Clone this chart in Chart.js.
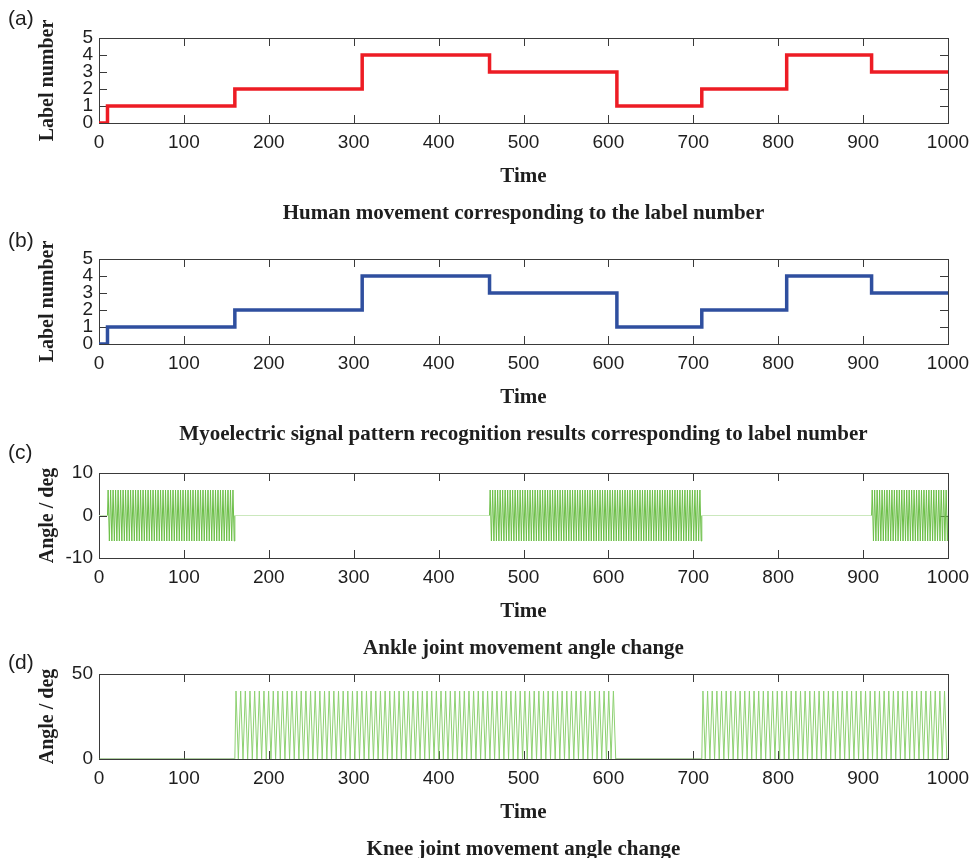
<!DOCTYPE html>
<html>
<head>
<meta charset="utf-8">
<title>Label number and joint angle</title>
<script src="https://cdn.jsdelivr.net/npm/chart.js@4.4.1/dist/chart.umd.min.js"></script>
<style>
  html, body { margin: 0; padding: 0; background: #fff; overflow: hidden; }
  #page { position: relative; width: 972px; height: 858px; overflow: hidden; }
  #page canvas { position: absolute; left: 0; }
  .tag { position: absolute; left: 8px; font: 21px "Liberation Sans", Arial, sans-serif; color: #1e1e1e; line-height: 1; }
</style>
</head>
<body>
<div id="page">
  <canvas id="panelA" width="972" height="232" style="top:0px"></canvas>
  <canvas id="panelB" width="972" height="232" style="top:221px"></canvas>
  <canvas id="panelC" width="972" height="232" style="top:435px"></canvas>
  <canvas id="panelD" width="972" height="232" style="top:636px"></canvas>
  <div class="tag" style="top:7px">(a)</div>
  <div class="tag" style="top:229px">(b)</div>
  <div class="tag" style="top:441px">(c)</div>
  <div class="tag" style="top:651px">(d)</div>
</div>
<script>
// time axis
var timeTicks = [0, 100, 200, 300, 400, 500, 600, 700, 800, 900, 1000];

// label number held between consecutive edges
var stepEdges = [0, 10, 160, 310, 460, 610, 710, 810, 910, 1000];
var humanLabel = [0, 1, 2, 4, 3, 1, 2, 4, 3];
var emgLabel = [0, 1, 2, 4, 3, 1, 2, 4, 3];

// ankle swings between +6 and -6 deg inside these spans, rest at 0
var ankleSpans = [[10, 160], [460, 710], [910, 1000]];
var ankleCycles = [51, 85, 31];
var anklePeaks = [6, -6];

// knee swings between 40 and 0 deg inside these spans
var kneeSpans = [[160, 610], [710, 1000]];
var kneeCycles = [82, 53];
var kneePeaks = [40, 0];

var axisColor = '#3a3a3a';
var textColor = '#1e1e1e';
var sansFont = '"Liberation Sans", Arial, sans-serif';
var serifFont = '"Liberation Serif", "Times New Roman", serif';
var tickLen = 8;

function stepPoints(edges, levels) {
  var pts = [];
  levels.forEach(function(v, i) {
    pts.push({x: edges[i], y: v}, {x: edges[i + 1], y: v});
  });
  return pts;
}

function swingPoints(spans, cycles, peaks, rest) {
  var pts = [{x: timeTicks[0], y: rest}];
  spans.forEach(function(span, i) {
    var s = span[0], e = span[1];
    var p = (e - s) / cycles[i];
    pts.push({x: s, y: rest});
    for (var k = 0; k < cycles[i]; k++) {
      peaks.forEach(function(v, j) {
        pts.push({x: s + p * (k + (j + 0.5) / peaks.length), y: v});
      });
    }
    pts.push({x: e, y: rest});
  });
  pts.push({x: timeTicks[timeTicks.length - 1], y: rest});
  return pts;
}

// MATLAB style box with inward ticks on all four sides
var boxTicks = {
  id: 'boxTicks',
  beforeDatasetsDraw: function(chart) {
    var ctx = chart.ctx, a = chart.chartArea;
    var xs = chart.scales.x, ys = chart.scales.y;
    ctx.save();
    ctx.strokeStyle = axisColor;
    ctx.lineWidth = 1;
    ctx.beginPath();
    xs.ticks.forEach(function(t) {
      var px = Math.round(xs.getPixelForValue(t.value)) + 0.5;
      ctx.moveTo(px, a.bottom); ctx.lineTo(px, a.bottom - tickLen);
      ctx.moveTo(px, a.top); ctx.lineTo(px, a.top + tickLen);
    });
    ys.ticks.forEach(function(t) {
      var py = Math.round(ys.getPixelForValue(t.value)) + 0.5;
      ctx.moveTo(a.left, py); ctx.lineTo(a.left + tickLen, py);
      ctx.moveTo(a.right, py); ctx.lineTo(a.right - tickLen, py);
    });
    ctx.stroke();
    ctx.strokeRect(Math.round(a.left) + 0.5, Math.round(a.top) + 0.5,
      Math.round(a.right - a.left), Math.round(a.bottom - a.top));
    ctx.restore();
  }
};

function plainNumber(v) { return String(v); }

function makePanel(id, opts) {
  var ctx = document.getElementById(id).getContext('2d');
  return new Chart(ctx, {
    type: 'line',
    data: {
      datasets: [{
        data: opts.points,
        borderColor: opts.color,
        borderWidth: opts.width,
        segment: opts.flatColor ? {
          borderColor: function(c) {
            return c.p0.parsed.y === c.p1.parsed.y ? opts.flatColor : opts.color;
          }
        } : undefined,
        pointRadius: 0,
        tension: 0,
        fill: false
      }]
    },
    options: {
      responsive: false,
      animation: false,
      events: [],
      layout: { padding: { top: 38, right: 24, left: 0, bottom: 0 } },
      plugins: {
        legend: { display: false },
        tooltip: { enabled: false }
      },
      scales: {
        x: {
          type: 'linear',
          min: 0,
          max: 1000,
          afterBuildTicks: function(s) {
            s.ticks = timeTicks.map(function(v) { return {value: v}; });
          },
          afterFit: function(s) {
            s.height = 109;
            s.paddingLeft = 0;
            s.paddingRight = 0;
          },
          grid: { display: false, drawTicks: false },
          border: { display: false },
          ticks: {
            color: textColor,
            padding: 8,
            maxRotation: 0,
            autoSkip: false,
            callback: plainNumber,
            font: { family: sansFont, size: 19 }
          },
          title: {
            display: true,
            text: ['Time', opts.caption],
            color: textColor,
            font: { family: serifFont, size: 21, weight: 'bold', lineHeight: 1.76 },
            padding: { top: 0, bottom: 0 }
          }
        },
        y: {
          type: 'linear',
          min: opts.yTicks[0],
          max: opts.yTicks[opts.yTicks.length - 1],
          afterBuildTicks: function(s) {
            s.ticks = opts.yTicks.map(function(v) { return {value: v}; });
          },
          afterFit: function(s) {
            s.width = 99;
            s.paddingTop = 0;
            s.paddingBottom = 0;
          },
          grid: { display: false, drawTicks: false },
          border: { display: false },
          ticks: {
            color: textColor,
            padding: 6,
            autoSkip: false,
            callback: plainNumber,
            font: { family: sansFont, size: 19 }
          },
          title: {
            display: true,
            text: opts.yTitle,
            color: textColor,
            font: { family: serifFont, size: 20, weight: 'bold' },
            padding: { top: 36, bottom: 0 }
          }
        }
      }
    },
    plugins: [boxTicks]
  });
}

window.onload = function() {
  makePanel('panelA', {
    points: stepPoints(stepEdges, humanLabel),
    color: '#ed1c24',
    width: 3.5,
    yTicks: [0, 1, 2, 3, 4, 5],
    yTitle: 'Label number',
    caption: 'Human movement corresponding to the label number'
  });
  makePanel('panelB', {
    points: stepPoints(stepEdges, emgLabel),
    color: '#2f4f9f',
    width: 3.5,
    yTicks: [0, 1, 2, 3, 4, 5],
    yTitle: 'Label number',
    caption: 'Myoelectric signal pattern recognition results corresponding to label number'
  });
  makePanel('panelC', {
    points: swingPoints(ankleSpans, ankleCycles, anklePeaks, 0),
    color: '#6cbf48',
    flatColor: '#cbe8bd',
    width: 1,
    yTicks: [-10, 0, 10],
    yTitle: 'Angle / deg',
    caption: 'Ankle joint movement angle change'
  });
  makePanel('panelD', {
    points: swingPoints(kneeSpans, kneeCycles, kneePeaks, 0),
    color: '#8ed172',
    flatColor: '#5e9a45',
    width: 1,
    yTicks: [0, 50],
    yTitle: 'Angle / deg',
    caption: 'Knee joint movement angle change'
  });
};
</script>
</body>
</html>
